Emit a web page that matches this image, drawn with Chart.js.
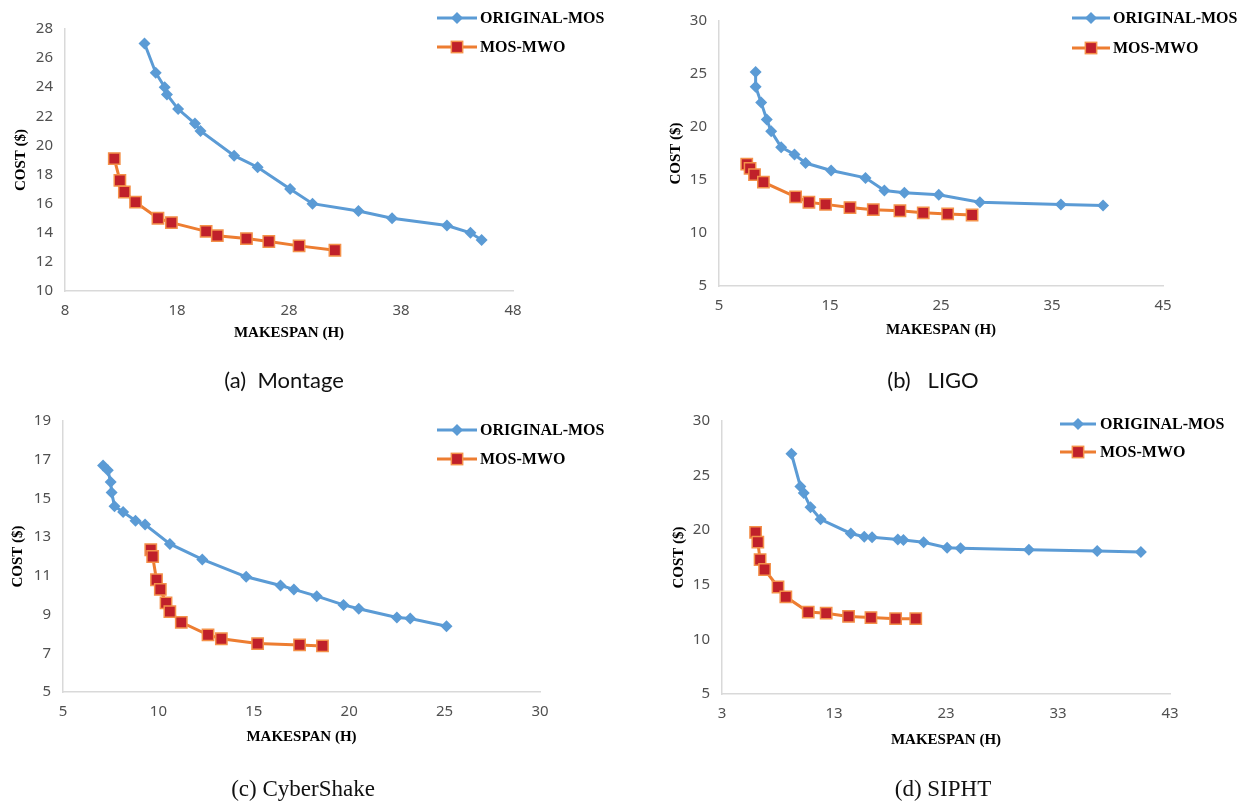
<!DOCTYPE html>
<html>
<head>
<meta charset="utf-8">
<script src="https://cdn.jsdelivr.net/npm/chart.js@4.4.0/dist/chart.umd.min.js"></script>
<style>
  body { margin: 0; background: #fff; }
  #wrap { position: relative; width: 1244px; height: 804px; overflow: hidden; }
  canvas { position: absolute; }
  .cap { position: absolute; white-space: pre; transform: translate(-50%, -50%); color: #111; line-height: 1; }
  .sans { font-family: Lato, 'Open Sans', sans-serif; font-size: 22px; }
  .serif { font-family: 'Liberation Serif', serif; font-size: 23px; }
</style>
</head>
<body>
<div id="wrap">
  <canvas id="montage" width="620" height="400" style="left:0;top:0"></canvas>
  <canvas id="ligo" width="624" height="400" style="left:620px;top:0"></canvas>
  <canvas id="cyber" width="620" height="404" style="left:0;top:400px"></canvas>
  <canvas id="sipht" width="624" height="404" style="left:620px;top:400px"></canvas>
  <div class="cap sans" style="left:284px;top:380px">(a)  Montage</div>
  <div class="cap sans" style="left:933px;top:380px">(b)   LIGO</div>
  <div class="cap serif" style="left:303px;top:788px">(c) CyberShake</div>
  <div class="cap serif" style="left:943px;top:788px">(d) SIPHT</div>
</div>
<script>
const seriesNames = ['ORIGINAL-MOS', 'MOS-MWO'];

// (a) Montage
const montageOrigX = [15.1, 16.1, 16.9, 17.1, 18.1, 19.6, 20.1, 23.1, 25.2, 28.1, 30.1, 34.2, 37.2, 42.1, 44.2, 45.2];
const montageOrigY = [27.0, 25.0, 24.0, 23.5, 22.5, 21.5, 21.0, 19.3, 18.5, 17.0, 16.0, 15.5, 15.0, 14.5, 14.0, 13.5];
const montageMwoX = [12.4, 12.9, 13.3, 14.3, 16.3, 17.5, 20.6, 21.6, 24.2, 26.2, 28.9, 32.1];
const montageMwoY = [19.1, 17.6, 16.8, 16.1, 15.0, 14.7, 14.1, 13.8, 13.6, 13.4, 13.1, 12.8];
const montageXTicks = [8, 18, 28, 38, 48];
const montageYTicks = [10, 12, 14, 16, 18, 20, 22, 24, 26, 28];

// (b) LIGO
const ligoOrigX = [8.3, 8.3, 8.8, 9.3, 9.7, 10.6, 11.8, 12.8, 15.1, 18.2, 19.9, 21.7, 24.8, 28.5, 35.8, 39.6];
const ligoOrigY = [25.2, 23.8, 22.3, 20.7, 19.6, 18.1, 17.4, 16.6, 15.9, 15.2, 14.0, 13.8, 13.6, 12.9, 12.7, 12.6];
const ligoMwoX = [7.5, 7.8, 8.2, 9.0, 11.9, 13.1, 14.6, 16.8, 18.9, 21.3, 23.4, 25.6, 27.8];
const ligoMwoY = [16.5, 16.1, 15.5, 14.8, 13.4, 12.9, 12.7, 12.4, 12.2, 12.1, 11.9, 11.8, 11.7];
const ligoXTicks = [5, 15, 25, 35, 45];
const ligoYTicks = [5, 10, 15, 20, 25, 30];

// (c) CyberShake
const cyberOrigX = [7.1, 7.35, 7.5, 7.55, 7.7, 8.15, 8.8, 9.3, 10.6, 12.3, 14.6, 16.4, 17.1, 18.3, 19.7, 20.5, 22.5, 23.2, 25.1];
const cyberOrigY = [16.7, 16.45, 15.85, 15.3, 14.6, 14.3, 13.85, 13.65, 12.65, 11.85, 10.95, 10.5, 10.3, 9.95, 9.5, 9.3, 8.85, 8.8, 8.4];
const cyberMwoX = [9.6, 9.7, 9.9, 10.1, 10.4, 10.6, 11.2, 12.6, 13.3, 15.2, 17.4, 18.6];
const cyberMwoY = [12.35, 12.0, 10.8, 10.3, 9.6, 9.15, 8.6, 7.95, 7.75, 7.5, 7.43, 7.38];
const cyberXTicks = [5, 10, 15, 20, 25, 30];
const cyberYTicks = [5, 7, 9, 11, 13, 15, 17, 19];

// (d) SIPHT
const siphtOrigX = [9.2, 10.0, 10.3, 10.9, 11.8, 14.5, 15.7, 16.4, 18.7, 19.2, 21.0, 23.1, 24.3, 30.4, 36.5, 40.4];
const siphtOrigY = [27.0, 24.0, 23.4, 22.1, 21.0, 19.7, 19.4, 19.35, 19.15, 19.1, 18.9, 18.4, 18.35, 18.2, 18.1, 18.0];
const siphtMwoX = [6.0, 6.2, 6.4, 6.8, 8.0, 8.7, 10.7, 12.3, 14.3, 16.3, 18.5, 20.3];
const siphtMwoY = [19.8, 18.9, 17.3, 16.4, 14.8, 13.9, 12.5, 12.4, 12.1, 12.0, 11.9, 11.9];
const siphtXTicks = [3, 13, 23, 33, 43];
const siphtYTicks = [5, 10, 15, 20, 25, 30];

const BLUE = '#5B9BD5';
const ORANGE = '#ED7D31';
const DARKRED = '#C0202A';
const AXIS = '#D9D9D9';
const TICK_FONT = { family: 'Noto Sans', size: 15 };
const TITLE_FONT = { family: 'Liberation Serif', size: 15, weight: 'bold' };

const pts = (xs, ys) => xs.map((x, i) => ({ x, y: ys[i] }));

// legend drawn in the upper right corner, partly over the plot
const cornerLegend = {
  id: 'cornerLegend',
  afterDraw(chart, args, opts) {
    const ctx = chart.ctx;
    ctx.save();
    chart.data.datasets.forEach((ds, i) => {
      const y = opts.rows[i];
      const cx = (opts.x1 + opts.x2) / 2;
      ctx.strokeStyle = ds.borderColor;
      ctx.lineWidth = ds.borderWidth;
      ctx.beginPath();
      ctx.moveTo(opts.x1, y);
      ctx.lineTo(opts.x2, y);
      ctx.stroke();
      ctx.fillStyle = ds.pointBackgroundColor;
      ctx.strokeStyle = ds.pointBorderColor;
      ctx.lineWidth = ds.pointBorderWidth;
      if (ds.pointStyle === 'rectRot') {
        const r = ds.pointRadius;
        ctx.beginPath();
        ctx.moveTo(cx, y - r); ctx.lineTo(cx + r, y); ctx.lineTo(cx, y + r); ctx.lineTo(cx - r, y);
        ctx.closePath();
        ctx.fill();
      } else {
        const h = ds.pointRadius * Math.SQRT1_2;
        ctx.fillRect(cx - h, y - h, 2 * h, 2 * h);
        ctx.strokeRect(cx - h, y - h, 2 * h, 2 * h);
      }
      ctx.fillStyle = '#000';
      ctx.font = 'bold 16px "Liberation Serif"';
      ctx.textBaseline = 'middle';
      ctx.fillText(ds.label, opts.tx, y + 1);
    });
    ctx.restore();
  }
};

function makeChart(id, p) {
  new Chart(document.getElementById(id), {
    type: 'scatter',
    data: {
      datasets: [
        {
          label: seriesNames[0], data: pts(p.origX, p.origY), showLine: true,
          borderColor: BLUE, borderWidth: 3,
          pointStyle: 'rectRot', pointRadius: 6, pointBackgroundColor: BLUE,
          pointBorderColor: BLUE, pointBorderWidth: 0
        },
        {
          label: seriesNames[1], data: pts(p.mwoX, p.mwoY), showLine: true,
          borderColor: ORANGE, borderWidth: 3,
          pointStyle: 'rect', pointRadius: 8, pointBackgroundColor: DARKRED,
          pointBorderColor: '#F4914A', pointBorderWidth: 1.5
        }
      ]
    },
    options: {
      responsive: false,
      animation: false,
      layout: { padding: { top: p.top, right: p.right, left: 0, bottom: 0 } },
      plugins: {
        legend: { display: false },
        tooltip: { enabled: false },
        cornerLegend: p.legend
      },
      scales: {
        x: {
          type: 'linear', min: p.xTicks[0], max: p.xTicks[p.xTicks.length - 1],
          afterBuildTicks: s => { s.ticks = p.xTicks.map(v => ({ value: v })); },
          afterFit: s => { s.height = p.xH; },
          grid: { display: false, drawTicks: false },
          border: { display: true, color: AXIS, width: 1.5 },
          ticks: { padding: 11, color: '#505050', font: TICK_FONT },
          title: {
            display: true, text: 'MAKESPAN (H)', color: '#000', font: TITLE_FONT,
            padding: { top: 0, bottom: p.xTitlePad }
          }
        },
        y: {
          type: 'linear', min: p.yTicks[0], max: p.yTicks[p.yTicks.length - 1],
          afterBuildTicks: s => { s.ticks = p.yTicks.map(v => ({ value: v })); },
          afterFit: s => { s.width = p.yW; },
          grid: { display: false, drawTicks: false },
          border: { display: true, color: AXIS, width: 1.5 },
          ticks: { padding: 12, color: '#505050', font: TICK_FONT },
          title: {
            display: true, text: 'COST ($)', color: '#000', font: TITLE_FONT,
            padding: { top: p.yTitlePad, bottom: 0 }
          }
        }
      }
    },
    plugins: [cornerLegend]
  });
}

makeChart('montage', {
  origX: montageOrigX, origY: montageOrigY, mwoX: montageMwoX, mwoY: montageMwoY,
  xTicks: montageXTicks, yTicks: montageYTicks,
  top: 29, right: 107, yW: 65, xH: 109, xTitlePad: 58, yTitlePad: 12,
  legend: { x1: 437, x2: 477, tx: 480, rows: [18, 47] }
});
makeChart('ligo', {
  origX: ligoOrigX, origY: ligoOrigY, mwoX: ligoMwoX, mwoY: ligoMwoY,
  xTicks: ligoXTicks, yTicks: ligoYTicks,
  top: 15, right: 81, yW: 99, xH: 114, xTitlePad: 61, yTitlePad: 47,
  legend: { x1: 452, x2: 490, tx: 493, rows: [18, 48] }
});
makeChart('cyber', {
  origX: cyberOrigX, origY: cyberOrigY, mwoX: cyberMwoX, mwoY: cyberMwoY,
  xTicks: cyberXTicks, yTicks: cyberYTicks,
  top: 18, right: 80, yW: 63, xH: 112, xTitlePad: 58, yTitlePad: 9,
  legend: { x1: 437, x2: 477, tx: 480, rows: [30, 59] }
});
makeChart('sipht', {
  origX: siphtOrigX, origY: siphtOrigY, mwoX: siphtMwoX, mwoY: siphtMwoY,
  xTicks: siphtXTicks, yTicks: siphtYTicks,
  top: 19, right: 74, yW: 102, xH: 110, xTitlePad: 55, yTitlePad: 50,
  legend: { x1: 440, x2: 476, tx: 480, rows: [24, 52] }
});
</script>
</body>
</html>
